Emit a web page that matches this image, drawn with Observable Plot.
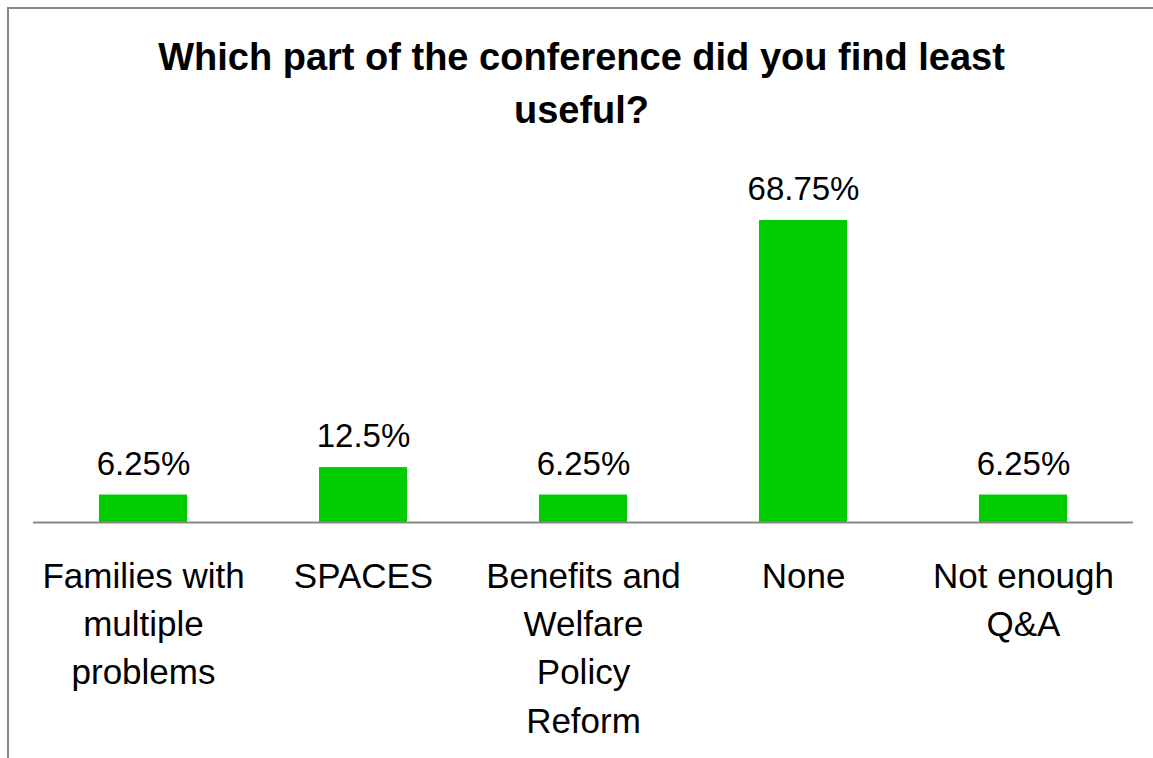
<!DOCTYPE html>
<html>
<head>
<meta charset="utf-8">
<script src="https://cdn.jsdelivr.net/npm/d3@7"></script>
<script src="https://cdn.jsdelivr.net/npm/@observablehq/plot@0.6"></script>
<style>
  html, body { margin: 0; padding: 0; background: #fff; }
  #frame { position: absolute; left: 7px; top: 7px; width: 1146px; height: 751px;
           border-left: 2px solid #878787; border-top: 2px solid #878787; box-sizing: border-box; }
  #title { position: absolute; left: 0; top: 31px; width: 1163px; text-align: center;
           font-family: "Liberation Sans", Arial, sans-serif; font-weight: bold; font-size: 38px;
           line-height: 53px; color: #000; }
  #chart { position: absolute; left: 0; top: 140px; }
</style>
</head>
<body>
<div id="frame"></div>
<div id="title">Which part of the conference did you find least<br>useful?</div>
<div id="chart"></div>
<script>
const categories = ["Families with multiple problems", "SPACES", "Benefits and Welfare Policy Reform", "None", "Not enough Q&A"];
const tickLabels = ["Families with\nmultiple\nproblems", "SPACES", "Benefits and\nWelfare\nPolicy\nReform", "None", "Not enough\nQ&A"];
const values = [6.25, 12.5, 6.25, 68.75, 6.25];
const valueLabels = ["6.25%", "12.5%", "6.25%", "68.75%", "6.25%"];

const data = categories.map((c, i) => ({category: c, value: values[i], label: valueLabels[i]}));
const labelOf = new Map(categories.map((c, i) => [c, tickLabels[i]]));

const chart = Plot.plot({
  width: 1153,
  height: 618,
  marginLeft: 33,
  marginRight: 20,
  marginTop: 80,
  marginBottom: 236,
  style: {fontFamily: "'Liberation Sans', Arial, sans-serif", background: "transparent"},
  x: {domain: categories, paddingInner: 0.6, paddingOuter: 0.3, axis: null},
  y: {domain: [0, 68.75], axis: null},
  marks: [
    Plot.barY(data, {x: "category", y: "value", fill: "#00cc00"}),
    Plot.ruleY([0], {stroke: "#878787", strokeWidth: 2}),
    Plot.text(data, {x: "category", y: "value", text: "label", dy: -31, fontSize: 33, fill: "#000"}),
    Plot.axisX({tickSize: 0, tickPadding: 31, fontSize: 35, lineHeight: 1.38,
                tickFormat: d => labelOf.get(d), fill: "#000", label: null})
  ]
});
document.getElementById("chart").appendChild(chart);
</script>
</body>
</html>
